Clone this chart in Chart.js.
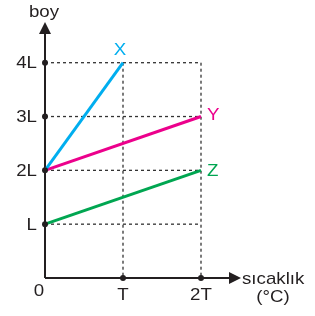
<!DOCTYPE html>
<html>
<head>
<meta charset="utf-8">
<script src="https://cdn.jsdelivr.net/npm/chart.js@4"></script>
<style>
  body { margin: 0; background: #fff; }
</style>
</head>
<body>
<canvas id="chart" width="315" height="316"></canvas>
<script>
// values
const seriesNames = ['X', 'Y', 'Z'];
const seriesColors = ['#00aeef', '#ec008c', '#00a651'];
const xTemps = [0, 1];
const xLengths = [2, 4];
const yTemps = [0, 2];
const yLengths = [2, 3];
const zTemps = [0, 2];
const zLengths = [1, 2];

const yTickValues = [1, 2, 3, 4];
const yTickLabels = ['L', '2L', '3L', '4L'];
const xTickValues = [1, 2];
const xTickLabels = ['T', '2T'];

const ink = '#231f20';
const font = '17px "Liberation Sans", Arial, sans-serif';

function toPoints(xs, ys) {
    return xs.map((x, i) => ({ x: x, y: ys[i] }));
}

const series = [toPoints(xTemps, xLengths), toPoints(yTemps, yLengths), toPoints(zTemps, zLengths)];

const axisDots = yTickValues.map(v => ({ x: 0, y: v }))
    .concat(xTickValues.map(v => ({ x: v, y: 0 })));

// the original lettering is a bit wider than Arial
function text(ctx, str, x, y, align, base) {
    ctx.save();
    ctx.translate(x, y);
    ctx.scale(1.1, 1);
    ctx.textAlign = align;
    ctx.textBaseline = base || 'alphabetic';
    ctx.fillText(str, 0, 0);
    ctx.restore();
}

const axesPlugin = {
    id: 'axes',
    beforeDatasetsDraw(chart) {
        const ctx = chart.ctx;
        const xs = chart.scales.x;
        const ys = chart.scales.y;
        const x0 = xs.getPixelForValue(0);
        const y0 = ys.getPixelForValue(0);
        const xMax = xs.getPixelForValue(2);
        const yMax = ys.getPixelForValue(4);

        ctx.save();
        // dashed guides
        ctx.strokeStyle = '#333';
        ctx.lineWidth = 1.3;
        ctx.setLineDash([3, 3]);
        yTickValues.forEach(v => {
            const py = ys.getPixelForValue(v);
            ctx.beginPath();
            ctx.moveTo(x0, py);
            ctx.lineTo(xMax, py);
            ctx.stroke();
        });
        xTickValues.forEach(v => {
            const px = xs.getPixelForValue(v);
            ctx.beginPath();
            ctx.moveTo(px, yMax);
            ctx.lineTo(px, y0);
            ctx.stroke();
        });
        ctx.setLineDash([]);

        // axes with arrows
        ctx.strokeStyle = ink;
        ctx.fillStyle = ink;
        ctx.lineWidth = 2;
        ctx.beginPath();
        ctx.moveTo(x0, y0);
        ctx.lineTo(x0, 30);
        ctx.moveTo(x0, y0);
        ctx.lineTo(232, y0);
        ctx.stroke();

        ctx.beginPath();
        ctx.moveTo(x0, 22);
        ctx.lineTo(x0 - 6, 34);
        ctx.lineTo(x0 + 6, 34);
        ctx.closePath();
        ctx.fill();

        ctx.beginPath();
        ctx.moveTo(241, y0);
        ctx.lineTo(229, y0 - 6);
        ctx.lineTo(229, y0 + 6);
        ctx.closePath();
        ctx.fill();
        ctx.restore();
    },
    afterDraw(chart) {
        const ctx = chart.ctx;
        const xs = chart.scales.x;
        const ys = chart.scales.y;
        const x0 = xs.getPixelForValue(0);

        ctx.save();
        ctx.font = font;
        ctx.fillStyle = ink;

        yTickLabels.forEach((t, i) => {
            text(ctx, t, x0 - 8, ys.getPixelForValue(yTickValues[i]) + 1, 'right', 'middle');
        });
        xTickLabels.forEach((t, i) => {
            text(ctx, t, xs.getPixelForValue(xTickValues[i]), 300, 'center');
        });
        text(ctx, '0', x0 - 6, 296, 'center');
        text(ctx, 'boy', x0 - 1, 17, 'center');
        text(ctx, 'sıcaklık', 242, 284, 'left');
        text(ctx, '(°C)', 273, 302, 'center');

        // series names near line ends
        series.forEach((pts, i) => {
            const end = pts[pts.length - 1];
            const px = xs.getPixelForValue(end.x);
            const py = ys.getPixelForValue(end.y);
            ctx.fillStyle = seriesColors[i];
            if (i === 0) {
                text(ctx, seriesNames[i], px - 3, py - 8, 'center');
            } else {
                text(ctx, seriesNames[i], px + 6, py + 6 - (i === 1 ? 3 : 0), 'left');
            }
        });
        ctx.restore();
    }
};

const datasets = [{
    data: axisDots,
    showLine: false,
    pointRadius: 3,
    pointBackgroundColor: ink,
    pointBorderWidth: 0
}].concat(series.map((pts, i) => ({
    label: seriesNames[i],
    data: pts,
    showLine: true,
    borderColor: seriesColors[i],
    borderWidth: 3,
    pointRadius: 0
})));

new Chart(document.getElementById('chart').getContext('2d'), {
    type: 'scatter',
    data: { datasets: datasets },
    options: {
        responsive: false,
        animation: false,
        clip: false,
        layout: { padding: { left: 45, right: 114, top: 62.7, bottom: 38 } },
        scales: {
            x: { type: 'linear', min: 0, max: 2, display: false },
            y: { type: 'linear', min: 0, max: 4, display: false }
        },
        plugins: {
            legend: { display: false },
            tooltip: { enabled: false }
        }
    },
    plugins: [axesPlugin]
});
</script>
</body>
</html>
